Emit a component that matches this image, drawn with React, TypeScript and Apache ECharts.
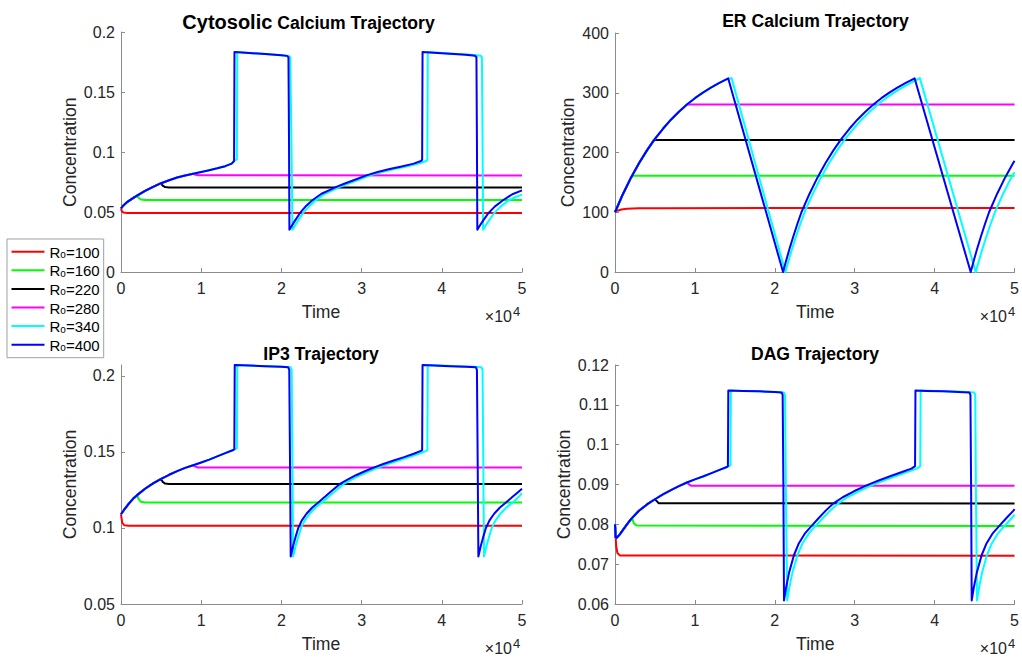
import React, { useEffect, useRef } from "react";
import * as echarts from "echarts";

type P = [number, number];

const SERIES_NAMES = ["Ro=100", "Ro=160", "Ro=220", "Ro=280", "Ro=340", "Ro=400"];
const COLORS = ["#ff0000", "#00ff00", "#000000", "#ff00ff", "#00ffff", "#0000ff"];
const PANEL_TITLES = ["Cytosolic Calcium Trajectory", "ER Calcium Trajectory", "IP3 Trajectory", "DAG Trajectory"];
const X_LABEL = "Time";
const Y_LABEL = "Concentration";
const BRANCH_TIMES = [2000, 5000, 9000]; // green, black, magenta leave the rising branch
const ER_BRANCH_TIMES = [2000, 4000, 9000];

// ---------- Cytosolic calcium ----------
const cytRise: P[] = [[0,0.053],[300,0.0555],[800,0.0585],[1400,0.0612],[2000,0.0637],[3000,0.0676],[4000,0.0710],[5000,0.0740],[6000,0.0765],[7000,0.0787],[8000,0.0804],[9000,0.0819],[10000,0.0833],[11000,0.0848],[12000,0.0864],[13000,0.0882],[13800,0.0903]];
const cytRed: P[] = [[0,0.053],[100,0.0508],[300,0.0495],[800,0.0492],[50000,0.0492]];
const cytGreenTail: P[] = [[2200,0.0618],[2500,0.0604],[3000,0.0601],[50000,0.0601]];
const cytBlackTail: P[] = [[5150,0.0722],[5500,0.0708],[6000,0.0705],[50000,0.0705]];
const cytMagentaTail: P[] = [[9200,0.0812],[9600,0.0806],[50000,0.0805]];
const cytCyanTail: P[] = [[14100,0.0925],[14450,0.0938],[14500,0.1834],[16000,0.1826],[18000,0.1816],[20000,0.1806],[20900,0.1801],[21100,0.1790],[21250,0.110],[21380,0.0352],[21680,0.0385],[22080,0.0428],[22680,0.049],[23420,0.0545],[24320,0.060],[25420,0.0652],[26450,0.0683],[27150,0.0705],[28450,0.0740],[29480,0.0765],[31080,0.0805],[32530,0.0833],[34050,0.0858],[35580,0.0880],[37120,0.0903],[38050,0.0925],[38200,0.0935],[38250,0.1834],[40000,0.1826],[42000,0.1817],[44000,0.1808],[44850,0.1802],[45000,0.1790],[45080,0.110],[45150,0.0352],[45450,0.0385],[45870,0.0428],[46520,0.049],[47320,0.0545],[48400,0.0600],[49200,0.0625],[50000,0.0645]];
const cytBlueTail: P[] = [[14100,0.0925],[14150,0.1834],[16000,0.1826],[18000,0.1816],[20000,0.1806],[20700,0.1801],[20880,0.1790],[20950,0.110],[21000,0.0352],[21300,0.0385],[21700,0.0428],[22300,0.049],[23000,0.0545],[23900,0.060],[25000,0.0652],[26000,0.0683],[26700,0.0705],[28000,0.0740],[29000,0.0765],[30600,0.0805],[32000,0.0833],[33500,0.0858],[35000,0.0880],[36500,0.0903],[37400,0.0925],[37550,0.0935],[37600,0.1834],[39000,0.1828],[41000,0.1819],[43000,0.1810],[44150,0.1802],[44320,0.1790],[44380,0.110],[44430,0.0352],[44730,0.0385],[45150,0.0428],[45800,0.049],[46600,0.0545],[47670,0.060],[48800,0.0648],[50000,0.0680]];

// ---------- ER calcium ----------
const erRise: P[] = [[0,100],[1000,130.6],[2000,157.9],[3000,182.1],[4000,203.6],[5000,222.7],[6000,239.7],[7000,254.9],[8000,268.3],[9000,280.3],[10000,290.9],[11000,300.3],[12000,308.7],[13000,316.2]];
const erRed: P[] = [[0,100],[300,102.5],[800,104.5],[1500,105.8],[3000,106.6],[6000,106.9],[50000,107]];
const erGreenTail: P[] = [[2300,161],[50000,161]];
const erBlackTail: P[] = [[4850,221],[50000,221]];
const erMagentaTail: P[] = [[50000,280.3]];
const erCyanTail: P[] = [[14170,323.5],[14590,324.5],[21320,0],[21737,19.7],[22155,38.4],[22676,60.3],[23199,80.8],[23720,100],[24738,130.6],[25756,157.9],[26774,182.1],[27792,203.6],[28810,222.7],[29828,239.7],[30846,254.9],[31864,268.3],[32882,280.3],[33900,290.9],[34918,300.3],[35936,308.7],[36954,316.2],[38150,324.5],[45140,0],[45557,19.7],[45975,38.4],[46496,60.3],[47019,80.8],[47540,100],[48558,130.6],[49576,157.9],[50000,167]];
const erBlueTail: P[] = [[14170,324],[21030,0],[21430,19.7],[21830,38.4],[22330,60.3],[22830,80.8],[23330,100],[24330,130.6],[25330,157.9],[26330,182.1],[27330,203.6],[28330,222.7],[29330,239.7],[30330,254.9],[31330,268.3],[32330,280.3],[33330,290.9],[34330,300.3],[35330,308.7],[36330,316.2],[37500,324],[44510,0],[44910,19.7],[45310,38.4],[45810,60.3],[46310,80.8],[46810,100],[47810,130.6],[48810,157.9],[49810,182.1],[50000,186]];

// ---------- IP3 ----------
const ip3Rise: P[] = [[0,0.109],[500,0.1128],[1000,0.1162],[1500,0.1192],[2000,0.1216],[3000,0.1258],[4000,0.1293],[5000,0.1323],[6000,0.1350],[7000,0.1374],[8000,0.1395],[9000,0.1413],[10000,0.1431],[11000,0.1450],[12000,0.1471],[13000,0.1492],[14000,0.1513]];
const ip3Red: P[] = [[0,0.109],[150,0.1035],[400,0.1018],[1000,0.1014],[50000,0.1015]];
const ip3GreenTail: P[] = [[2200,0.1190],[2500,0.1172],[3000,0.1167],[50000,0.1167]];
const ip3BlackTail: P[] = [[5200,0.1303],[5500,0.1292],[6000,0.1290],[50000,0.1290]];
const ip3MagentaTail: P[] = [[9200,0.1405],[9600,0.1398],[50000,0.1397]];
const ip3CyanTail: P[] = [[14450,0.1524],[14500,0.2072],[16000,0.2068],[18000,0.2064],[20000,0.2060],[21150,0.2057],[21280,0.2040],[21380,0.140],[21460,0.0813],[21760,0.0880],[22080,0.0938],[22450,0.1000],[22920,0.1050],[23540,0.1095],[24260,0.1135],[25030,0.1168],[25950,0.1208],[26870,0.1250],[27790,0.1290],[28810,0.1320],[29830,0.1347],[30950,0.1373],[32070,0.1397],[33290,0.1421],[34610,0.1444],[35930,0.1466],[37150,0.1488],[38070,0.1507],[38200,0.1513],[38250,0.2072],[40000,0.2068],[42000,0.2064],[44000,0.2060],[44950,0.2057],[45080,0.2040],[45180,0.140],[45260,0.0813],[45560,0.0880],[45870,0.0938],[46230,0.1000],[46700,0.1050],[47320,0.1095],[48050,0.1135],[48850,0.1168],[49500,0.1200],[50000,0.1229]];
const ip3BlueTail: P[] = [[14130,0.1518],[14180,0.2072],[16000,0.2068],[18000,0.2064],[20000,0.2060],[20850,0.2057],[20980,0.2040],[21080,0.140],[21160,0.0813],[21450,0.0880],[21750,0.0938],[22100,0.1000],[22550,0.1050],[23150,0.1095],[23850,0.1135],[24600,0.1168],[25500,0.1208],[26400,0.1250],[27300,0.1290],[28300,0.1320],[29300,0.1347],[30400,0.1373],[31500,0.1397],[32700,0.1421],[34000,0.1444],[35300,0.1466],[36500,0.1488],[37400,0.1507],[37550,0.1513],[37600,0.2072],[39000,0.2068],[41000,0.2064],[43000,0.2060],[44250,0.2057],[44380,0.2040],[44480,0.140],[44560,0.0813],[44850,0.0880],[45150,0.0938],[45500,0.1000],[45950,0.1050],[46550,0.1095],[47250,0.1135],[48000,0.1168],[48900,0.1208],[49500,0.1235],[50000,0.1258]];

// ---------- DAG ----------
const dagRise: P[] = [[0,0.0800],[80,0.0768],[200,0.0766],[600,0.0775],[1000,0.0786],[1500,0.0800],[2000,0.0813],[3000,0.0834],[4000,0.0850],[5000,0.0863],[6000,0.0875],[7000,0.0886],[8000,0.0896],[9000,0.0905],[10000,0.0913],[11000,0.0920],[12000,0.0928],[13000,0.0936],[14000,0.0944]];
const dagRed: P[] = [[0,0.0800],[60,0.0775],[150,0.0745],[300,0.0728],[600,0.0722],[50000,0.0721]];
const dagGreenTail: P[] = [[2150,0.0815],[2350,0.0803],[2700,0.0797],[50000,0.0796]];
const dagBlackTail: P[] = [[5150,0.0860],[5450,0.0853],[50000,0.0852]];
const dagMagentaTail: P[] = [[9200,0.0901],[9500,0.0897],[50000,0.0897]];
const dagCyanTail: P[] = [[14450,0.0948],[14500,0.1136],[16000,0.1135],[18000,0.1134],[20000,0.1132],[21150,0.1131],[21280,0.1125],[21380,0.090],[21550,0.0609],[21800,0.0640],[22220,0.0680],[22840,0.0723],[23460,0.0752],[24280,0.0778],[25100,0.0796],[26020,0.0816],[26950,0.0835],[27880,0.0852],[29100,0.0868],[30520,0.0883],[32030,0.0897],[33640,0.0910],[35240,0.0922],[36650,0.0932],[37750,0.0940],[38200,0.0946],[38250,0.1136],[40000,0.1135],[42000,0.1134],[44000,0.1132],[44950,0.1131],[45080,0.1125],[45160,0.090],[45300,0.0609],[45550,0.0640],[45950,0.0680],[46550,0.0723],[47150,0.0752],[47950,0.0778],[48750,0.0796],[49650,0.0816],[50000,0.0824]];
const dagBlueTail: P[] = [[14130,0.0946],[14180,0.1136],[16000,0.1135],[18000,0.1134],[20000,0.1132],[20850,0.1131],[20980,0.1125],[21070,0.090],[21150,0.0609],[21400,0.0640],[21800,0.0680],[22400,0.0723],[23000,0.0752],[23800,0.0778],[24600,0.0796],[25500,0.0816],[26400,0.0835],[27300,0.0852],[28500,0.0868],[29900,0.0883],[31400,0.0897],[33000,0.0910],[34600,0.0922],[36000,0.0932],[37100,0.0940],[37550,0.0946],[37600,0.1136],[39000,0.1135],[41000,0.1134],[43000,0.1132],[44350,0.1131],[44480,0.1125],[44560,0.090],[44640,0.0609],[44890,0.0640],[45290,0.0680],[45890,0.0723],[46490,0.0752],[47290,0.0778],[48090,0.0796],[48990,0.0816],[49890,0.0835],[50000,0.0838]];

// axis ranges / tick values
const X_MAX = 50000;
const X_INTERVAL = 10000;
const Y_RANGES = [
  { min: 0, max: 0.2, ticks: [0, 0.05, 0.1, 0.15, 0.2] },
  { min: 0, max: 400, ticks: [0, 100, 200, 300, 400] },
  { min: 0.05, max: 0.2072, ticks: [0.05, 0.1, 0.15, 0.2] },
  { min: 0.06, max: 0.12, ticks: [0.06, 0.07, 0.08, 0.09, 0.1, 0.11, 0.12] },
];

const PANELS = [
  { rise: cytRise, red: cytRed, tails: [cytGreenTail, cytBlackTail, cytMagentaTail], cyan: cytCyanTail, blue: cytBlueTail, cyanUntil: 13800, branch: BRANCH_TIMES },
  { rise: erRise, red: erRed, tails: [erGreenTail, erBlackTail, erMagentaTail], cyan: erCyanTail, blue: erBlueTail, cyanUntil: 13000, branch: ER_BRANCH_TIMES },
  { rise: ip3Rise, red: ip3Red, tails: [ip3GreenTail, ip3BlackTail, ip3MagentaTail], cyan: ip3CyanTail, blue: ip3BlueTail, cyanUntil: 14000, branch: BRANCH_TIMES },
  { rise: dagRise, red: dagRed, tails: [dagGreenTail, dagBlackTail, dagMagentaTail], cyan: dagCyanTail, blue: dagBlueTail, cyanUntil: 14000, branch: BRANCH_TIMES },
];

// ---------- layout (pixels) ----------
const FONT = "Liberation Sans, Arial, Helvetica, sans-serif";
const GRIDS = [
  { left: 121, top: 32, width: 401, height: 240 },
  { left: 615, top: 33, width: 401, height: 239 },
  { left: 121, top: 365, width: 401, height: 239 },
  { left: 615, top: 365, width: 401, height: 239 },
];
const TITLE_POS = [[308.5, 21], [815.5, 21], [321, 353.5], [815, 353.5]];
const YNAME_POS = [[69.7, 152.3], [567.5, 152.5], [69.7, 484.5], [563.7, 484.5]];
const XNAME_POS = [[321, 311.7], [815.3, 311.7], [321, 644], [815.3, 644]];
const EXP_POS = [[512, 316], [1007, 316], [512, 648], [1007, 648]];

const AXIS_GRAY = "#8c8c8c";
const TEXT_GRAY = "#262626";

function fmt(v: number) {
  return String(parseFloat(Number(v).toFixed(4)));
}

function buildOption() {
  const series: any[] = [];
  PANELS.forEach((p, i) => {
    const bt = p.branch;
    const datas: P[][] = [
      p.red,
      p.rise.filter((d) => d[0] <= bt[0]).concat(p.tails[0]),
      p.rise.filter((d) => d[0] <= bt[1]).concat(p.tails[1]),
      p.rise.filter((d) => d[0] <= bt[2]).concat(p.tails[2]),
      p.rise.filter((d) => d[0] <= p.cyanUntil).concat(p.cyan),
      p.rise.concat(p.blue),
    ];
    datas.forEach((data, k) => {
      series.push({
        type: "line",
        name: SERIES_NAMES[k],
        xAxisIndex: i,
        yAxisIndex: i,
        data,
        showSymbol: false,
        symbol: "none",
        silent: true,
        z: 2 + k,
        lineStyle: { width: 2, color: COLORS[k], join: "round" },
        itemStyle: { color: COLORS[k] },
      });
    });
  });

  const xAxis = GRIDS.map((_, i) => ({
    type: "value",
    gridIndex: i,
    min: 0,
    max: X_MAX,
    interval: X_INTERVAL,
    axisLine: { show: true, onZero: false, lineStyle: { color: AXIS_GRAY, width: 1 } },
    axisTick: { show: true, inside: true, length: 4, lineStyle: { color: AXIS_GRAY } },
    splitLine: { show: false },
    axisLabel: {
      color: TEXT_GRAY,
      fontSize: 16,
      fontFamily: FONT,
      margin: 8,
      formatter: (v: number) => fmt(v / 10000),
    },
  }));

  const yAxis = Y_RANGES.map((r, i) => ({
    type: "value",
    gridIndex: i,
    min: r.min,
    max: r.max,
    axisLine: { show: true, onZero: false, lineStyle: { color: AXIS_GRAY, width: 1 } },
    axisTick: { show: true, inside: true, length: 4, lineStyle: { color: AXIS_GRAY }, customValues: r.ticks },
    splitLine: { show: false },
    axisLabel: {
      color: TEXT_GRAY,
      fontSize: 16,
      fontFamily: FONT,
      margin: 6,
      customValues: r.ticks,
      formatter: (v: number) => fmt(v),
    },
  }));

  const graphic: any[] = [];
  PANEL_TITLES.forEach((t, i) => {
    const isCyt = i === 0;
    graphic.push({
      type: "text",
      x: TITLE_POS[i][0],
      y: TITLE_POS[i][1],
      style: {
        text: isCyt ? "{a|Cytosolic} {b|Calcium Trajectory}" : t,
        fontFamily: FONT,
        fontSize: 17.6,
        fontWeight: "bold",
        fill: "#000",
        align: "center",
        verticalAlign: "middle",
        rich: isCyt
          ? {
              a: { fontSize: 20, fontWeight: "bold", fontFamily: FONT, fill: "#000", lineHeight: 22, verticalAlign: "bottom" },
              b: { fontSize: 17.6, fontWeight: "bold", fontFamily: FONT, fill: "#000", lineHeight: 20, verticalAlign: "bottom" },
            }
          : undefined,
      },
    });
    graphic.push({
      type: "text",
      x: YNAME_POS[i][0],
      y: YNAME_POS[i][1],
      rotation: Math.PI / 2,
      style: { text: Y_LABEL, fontFamily: FONT, fontSize: 17.6, fill: TEXT_GRAY, align: "center", verticalAlign: "middle" },
    });
    graphic.push({
      type: "text",
      x: XNAME_POS[i][0],
      y: XNAME_POS[i][1],
      style: { text: X_LABEL, fontFamily: FONT, fontSize: 17.6, fill: TEXT_GRAY, align: "center", verticalAlign: "middle" },
    });
    graphic.push({
      type: "text",
      x: EXP_POS[i][0],
      y: EXP_POS[i][1],
      style: { text: "×10", fontFamily: FONT, fontSize: 16, fill: TEXT_GRAY, align: "right", verticalAlign: "middle" },
    });
    graphic.push({
      type: "text",
      x: EXP_POS[i][0] + 1,
      y: EXP_POS[i][1] - 5,
      style: { text: "4", fontFamily: FONT, fontSize: 13, fill: TEXT_GRAY, align: "left", verticalAlign: "middle" },
    });
  });

  return {
    animation: false,
    backgroundColor: "#ffffff",
    grid: GRIDS.map((g) => ({ ...g, containLabel: false })),
    xAxis,
    yAxis,
    legend: {
      data: SERIES_NAMES,
      orient: "vertical",
      left: 7,
      top: 239,
      icon: "rect",
      itemWidth: 33,
      itemHeight: 2,
      itemGap: 3.6,
      padding: [5.7, 4, 5, 4.5],
      backgroundColor: "#ffffff",
      borderColor: "#a0a0a0",
      borderWidth: 1,
      selectedMode: false,
      formatter: (name: string) => `{r|R}{s|o}{r|${name.slice(2)}}`,
      textStyle: {
        fontFamily: FONT,
        fontSize: 15,
        color: "#000",
        rich: {
          r: { fontFamily: FONT, fontSize: 15, color: "#000", lineHeight: 16, verticalAlign: "bottom" },
          s: { fontFamily: FONT, fontSize: 10, color: "#000", lineHeight: 11, verticalAlign: "bottom" },
        },
      },
    },
    graphic,
    series,
  };
}

export default function App() {
  const ref = useRef<HTMLDivElement>(null);
  useEffect(() => {
    if (!ref.current) return;
    const chart = echarts.init(ref.current, null, { renderer: "svg" });
    chart.setOption(buildOption() as any);
    return () => chart.dispose();
  }, []);
  return (
    <div
      ref={ref}
      style={{ position: "fixed", left: 0, top: 0, width: 1022, height: 658, background: "#fff" }}
    />
  );
}
